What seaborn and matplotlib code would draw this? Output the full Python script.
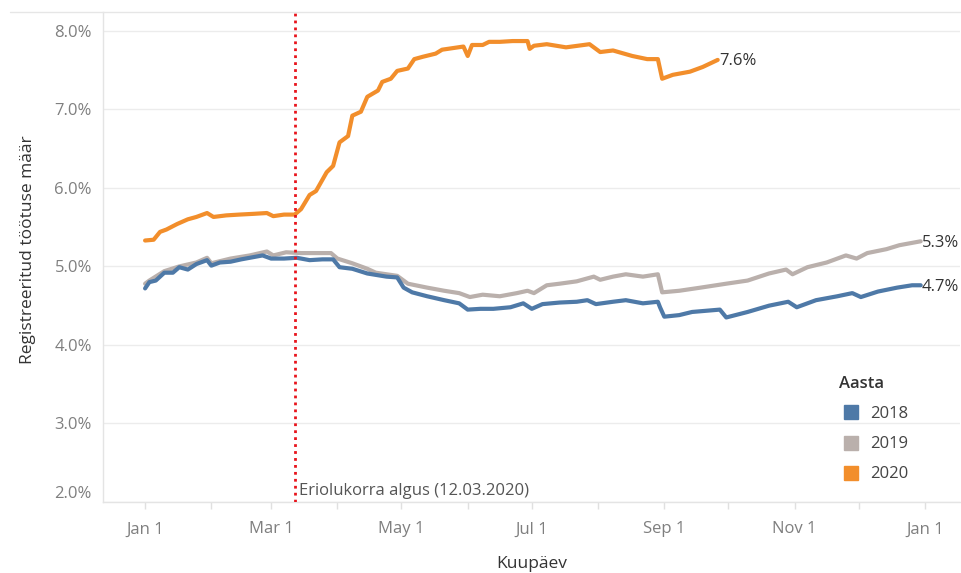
import matplotlib
matplotlib.use("Agg")
import matplotlib.pyplot as plt
from matplotlib.lines import Line2D
import matplotlib.dates as mdates
import seaborn as sns
import pandas as pd

# ---------------- data (day offset from Jan 1, rate in %) ----------------
days_2018 = [0, 2, 5, 9, 13, 16, 20, 24, 29, 31, 35, 40, 45, 49, 55, 59, 65, 71, 77, 83,
             88, 91, 97, 104, 113, 118, 121, 125, 132, 140, 147, 151, 157, 163, 171, 177, 181, 186, 194, 202,
             207, 211, 219, 225, 233, 240, 241, 243, 250, 256, 269, 272, 282, 292, 301, 305, 314, 324, 331, 335,
             343, 352, 359, 363]
rates_2018 = [4.72, 4.80, 4.82, 4.92, 4.92, 4.99, 4.96, 5.03, 5.08, 5.01, 5.05, 5.06, 5.09, 5.11, 5.14, 5.10, 5.10, 5.11, 5.08, 5.09,
              5.09, 4.99, 4.97, 4.91, 4.87, 4.86, 4.73, 4.67, 4.62, 4.57, 4.53, 4.45, 4.46, 4.46, 4.48, 4.53, 4.46, 4.52, 4.54, 4.55,
              4.57, 4.52, 4.55, 4.57, 4.53, 4.55, 4.48, 4.36, 4.38, 4.42, 4.45, 4.35, 4.42, 4.50, 4.55, 4.48, 4.57, 4.62, 4.66, 4.61,
              4.68, 4.73, 4.76, 4.76]

days_2019 = [0, 2, 9, 16, 24, 29, 31, 40, 49, 57, 60, 66, 73, 80, 87, 90, 97, 104, 108, 118,
             123, 132, 140, 147, 152, 158, 166, 174, 179, 182, 188, 194, 202, 210, 213, 219, 225, 233, 240, 242,
             250, 260, 272, 282, 292, 300, 303, 310, 319, 328, 333, 338, 347, 353, 361, 363]
rates_2019 = [4.78, 4.82, 4.94, 5.00, 5.05, 5.11, 5.04, 5.10, 5.14, 5.19, 5.14, 5.18, 5.17, 5.17, 5.17, 5.10, 5.04, 4.97, 4.92, 4.88,
              4.78, 4.73, 4.69, 4.66, 4.61, 4.64, 4.62, 4.66, 4.69, 4.66, 4.76, 4.78, 4.81, 4.87, 4.83, 4.87, 4.90, 4.87, 4.90, 4.67,
              4.69, 4.73, 4.78, 4.82, 4.91, 4.96, 4.90, 4.99, 5.05, 5.14, 5.10, 5.17, 5.22, 5.27, 5.31, 5.32]

days_2020 = [0, 4, 7, 10, 15, 20, 24, 29, 32, 38, 44, 51, 57, 60, 65, 70, 73, 77, 80, 85,
             88, 91, 95, 97, 101, 104, 109, 111, 115, 118, 123, 126, 130, 136, 139, 144, 149, 151, 153, 158,
             161, 166, 172, 179, 180, 182, 188, 197, 208, 213, 219, 228, 235, 240, 242, 247, 255, 261, 268]
rates_2020 = [5.33, 5.34, 5.44, 5.47, 5.54, 5.60, 5.63, 5.68, 5.63, 5.65, 5.66, 5.67, 5.68, 5.64, 5.66, 5.66, 5.73, 5.91, 5.96, 6.20,
              6.28, 6.58, 6.66, 6.92, 6.97, 7.16, 7.24, 7.35, 7.39, 7.49, 7.52, 7.64, 7.67, 7.71, 7.76, 7.78, 7.80, 7.68, 7.82, 7.82,
              7.86, 7.86, 7.87, 7.87, 7.77, 7.81, 7.83, 7.79, 7.83, 7.73, 7.75, 7.68, 7.64, 7.64, 7.39, 7.44, 7.48, 7.54, 7.63]

years = ["2018", "2019", "2020"]
end_labels = ["4.7%", "5.3%", "7.6%"]
colors = ["#4e79a7", "#bab0ac", "#f28e2b"]
x_tick_labels = ["Jan 1", "Mar 1", "May 1", "Jul 1", "Sep 1", "Nov 1", "Jan 1"]
y_ticks = [2.0, 3.0, 4.0, 5.0, 6.0, 7.0, 8.0]
event_day = 70
event_label = "Eriolukorra algus (12.03.2020)"

# ---------------- build table ----------------
base = pd.Timestamp("2019-01-01")
frames = []
for yr, d, r in zip(years, [days_2018, days_2019, days_2020], [rates_2018, rates_2019, rates_2020]):
    frames.append(pd.DataFrame({"Kuupäev": base + pd.to_timedelta(d, unit="D"),
                                "rate": r, "Aasta": yr}))
df = pd.concat(frames, ignore_index=True)

sns.set_theme(style="white")
plt.rcParams["font.family"] = ["Open Sans", "DejaVu Sans"]

fig = plt.figure(figsize=(9.62, 5.73), dpi=100)
ax = fig.add_axes([103 / 962, 1 - 502 / 573, (960 - 103) / 962, (502 - 12) / 573])

palette = dict(zip(years, colors))
sns.lineplot(data=df, x="Kuupäev", y="rate", hue="Aasta", hue_order=years,
             palette=palette, linewidth=3.0, ax=ax, legend=False)
zmap = {0: 3, 1: 2, 2: 4}
for i, ln in enumerate(ax.lines[:3]):
    ln.set_zorder(zmap[i])
    ln.set_solid_capstyle("round")
    ln.set_solid_joinstyle("round")

# axes limits
ax.set_xlim(base - pd.Timedelta(days=19.7), base + pd.Timedelta(days=381.4))
ax.set_ylim(2.0, 8.24)

# y axis
ax.set_yticks(y_ticks)
ax.set_yticklabels([f"{v:.1f}%" for v in y_ticks])
ax.tick_params(axis="y", length=0, pad=8, labelsize=12, labelcolor="#7f7f7f")
ax.get_yticklabels()[0].set_va("bottom")
ax.yaxis.grid(True, color="#ececec", linewidth=1.0)
ax.xaxis.grid(False)

# x axis
xt = pd.date_range("2019-01-01", "2020-01-01", freq="2MS")
ax.set_xticks(xt)
ax.set_xticklabels(x_tick_labels)
ax.xaxis.set_minor_locator(mdates.MonthLocator())
ax.tick_params(axis="x", which="both", direction="out", length=5, width=1,
               color="#e0e0e0", pad=9, labelsize=12, labelcolor="#7f7f7f", bottom=True)

ax.set_xlabel("Kuupäev", fontsize=12.5, color="#333333", labelpad=13, fontweight="medium")
ax.set_ylabel("Registreeritud töötuse määr", fontsize=12.5, color="#333333",
              fontweight="medium", va="center")
ax.yaxis.set_label_coords((28 - 103) / 857, (502 - 250) / 490)

for s in ["top", "right"]:
    ax.spines[s].set_visible(False)
for s in ["left", "bottom"]:
    ax.spines[s].set_color("#e4e4e4")
    ax.spines[s].set_linewidth(1.0)

# event line
ev = base + pd.Timedelta(days=event_day)
ax.axvline(ev, color="#e8141c", linestyle=(0, (1, 1.5)), linewidth=2.0, zorder=5)
ax.annotate(event_label, xy=(ev, 2.0), xytext=(3, 2), textcoords="offset points",
            ha="left", va="bottom", fontsize=12, color="#555555")

# end labels
for d, r, lab in zip([days_2018, days_2019, days_2020], [rates_2018, rates_2019, rates_2020], end_labels):
    ax.annotate(lab, xy=(base + pd.Timedelta(days=d[-1]), r[-1]), xytext=(1, -1),
                textcoords="offset points", ha="left", va="center", fontsize=12,
                color="#333333", zorder=6)

# legend
handles = [Line2D([], [], marker="s", linestyle="", markersize=9.5,
                  markerfacecolor=c, markeredgecolor=c) for c in colors]
leg = fig.legend(handles, years, title="Aasta", loc="upper left",
                 bbox_to_anchor=(824 / 962, 1 - 361 / 573), frameon=False,
                 fontsize=12, title_fontsize=12, labelspacing=0.85,
                 handletextpad=0.45, handlelength=1.4, alignment="left",
                 labelcolor="#444444")
leg.get_title().set_color("#333333")
leg.get_title().set_fontweight("semibold")

# top border line
fig.add_artist(Line2D([10 / 962, 960 / 962], [1 - 12 / 573, 1 - 12 / 573],
                      transform=fig.transFigure, color="#e6e6e6", linewidth=1.0))

fig.savefig("out.png", dpi=100)
